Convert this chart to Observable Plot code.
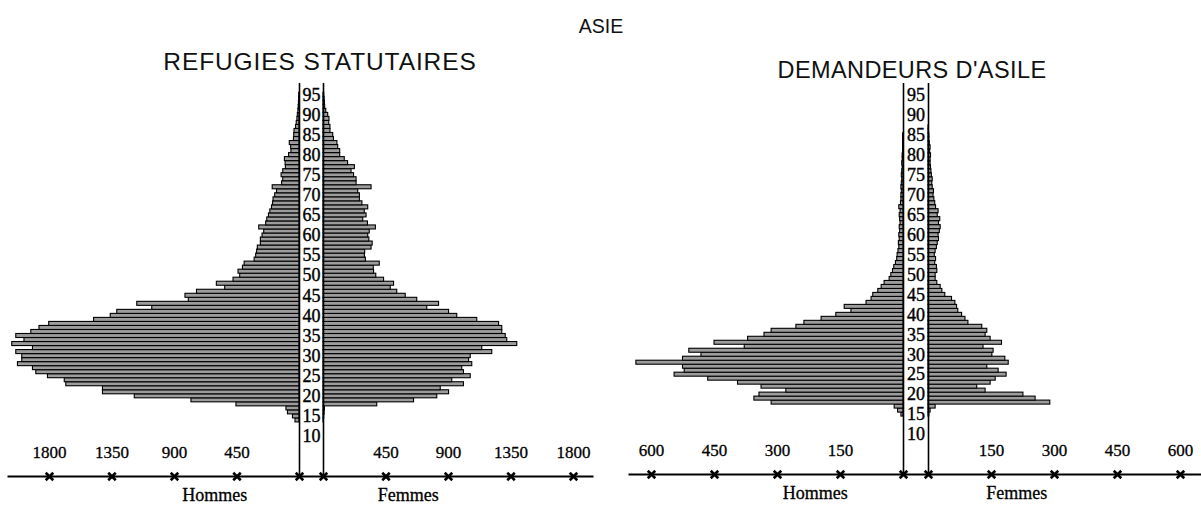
<!DOCTYPE html>
<html>
<head>
<meta charset="utf-8">
<script src="https://cdn.jsdelivr.net/npm/d3@7"></script>
<script src="https://cdn.jsdelivr.net/npm/@observablehq/plot@0.6"></script>
<style>
  body { margin: 0; background: #fff; }
  #root { position: relative; width: 1201px; height: 508px; overflow: hidden; background: #fff;
          font-family: "Liberation Sans", Arial, sans-serif; }
  .t { position: absolute; line-height: 1; color: #111; white-space: nowrap;
       transform: translate(-50%, -50%); }
  .p { position: absolute; top: 80px; }
</style>
</head>
<body>
<div id="root">
  <div class="t" style="left:601px; top:27px; font-size:19.5px;">ASIE</div>
  <div class="t" style="left:320px; top:62px; font-size:24.5px; letter-spacing:0.9px;">REFUGIES STATUTAIRES</div>
  <div class="t" style="left:912px; top:71px; font-size:23.5px; letter-spacing:0.4px;">DEMANDEURS D'ASILE</div>
  <div class="p" id="left" style="left:0px;"></div>
  <div class="p" id="right" style="left:605px;"></div>
</div>
<script>
// ---------- data ----------
const ages = [14,15,16,17,18,19,20,21,22,23,24,25,26,27,28,29,30,31,32,33,34,35,36,37,38,39,40,
  41,42,43,44,45,46,47,48,49,50,51,52,53,54,55,56,57,58,59,60,61,62,63,64,65,66,67,68,69,70,
  71,72,73,74,75,76,77,78,79,80,81,82,83,84,85,86,87,88,89,90,91,92,93,94,95];
const ageLabels = [10,15,20,25,30,35,40,45,50,55,60,65,70,75,80,85,90,95];

// Réfugiés statutaires (ages 14..95)
const refHommes = [29,47,83,94,454,778,1186,1415,1415,1679,1690,1811,1895,1919,2027,1996,1996,2039,1919,2068,
  1980,2039,1931,1872,1802,1479,1359,1312,1060,1168,797,821,738,535,595,475,427,439,407,395,
  323,312,305,300,278,278,266,254,290,240,232,220,210,198,190,187,175,162,193,125,
  117,129,117,98,100,105,75,58,60,70,40,38,36,25,20,15,12,8,6,4,3,2];
const refFemmes = [3,5,8,10,387,652,819,904,844,1011,927,1060,1011,999,1071,1048,1060,1215,1143,1395,
  1323,1312,1287,1287,1264,1107,963,904,747,832,675,592,531,484,508,436,380,364,362,405,
  305,298,300,346,354,330,322,333,377,320,286,310,297,322,280,262,262,250,346,238,
  238,220,202,226,177,153,120,120,106,100,75,70,50,50,41,43,34,20,12,10,8,5];
const refTicks = [450, 900, 1350, 1800];

// Demandeurs d'asile (ages 14..95)
const asileHommes = [0,5,13,21,314,355,343,279,338,394,465,545,521,525,636,525,481,510,378,450,
  370,331,314,255,236,195,160,124,140,88,76,72,60,52,45,33,29,25,22,18,
  15,14,12,10,11,9,10,8,9,7,8,9,7,10,6,5,5,4,5,4,
  3,4,3,2,3,2,2,1,1,1,1,1,0,0,0,0,0,0,0,0,0,0];
const asileFemmes = [0,2,5,17,290,255,226,136,116,148,160,186,167,140,191,183,152,155,131,175,
  148,136,140,128,95,88,80,71,68,64,56,40,33,29,21,17,17,21,20,16,
  18,15,17,20,22,25,24,27,29,25,28,22,24,18,16,14,12,13,10,9,
  10,8,7,6,5,5,6,4,5,3,2,2,1,1,0,0,0,0,0,0,0,0];
const asileTicks = [150, 300, 450, 600];

const sexLabels = ["Hommes", "Femmes"];

// ---------- drawing ----------
const SERIF = "'Liberation Serif', 'Times New Roman', serif";

function pyramid(o) {
  const rows = ages.map((a, i) => ({age: a, h: o.hommes[i], f: o.femmes[i]}));
  const tickRows = [0, ...o.ticks].flatMap(t => [{x: -(o.g + t), t}, {x: o.g + t, t}]);
  const sexRows = [{x: -(o.g + o.sexOff), s: sexLabels[0]}, {x: o.g + o.sexOff, s: sexLabels[1]}];
  const barStyle = {fill: "#9c9c9c", stroke: "#000", strokeWidth: 1.1};
  const xDomain = [-(o.centerPx - o.mL) / o.k, (o.width - o.mR - o.centerPx) / o.k];
  return Plot.plot({
    width: o.width, height: o.height,
    marginLeft: o.mL, marginRight: o.mR, marginTop: o.mT, marginBottom: o.mB,
    x: {domain: xDomain, axis: null},
    y: {domain: o.yDomain, axis: null},
    style: {background: "transparent", overflow: "visible"},
    marks: [
      Plot.rect(rows.filter(d => d.h > 0), {x1: d => -o.g - d.h, x2: d => -o.g,
        y1: d => d.age - 0.5, y2: d => d.age + 0.5, ...barStyle}),
      Plot.rect(rows.filter(d => d.f > 0), {x1: d => o.g, x2: d => o.g + d.f,
        y1: d => d.age - 0.5, y2: d => d.age + 0.5, ...barStyle}),
      Plot.ruleX([-o.g, o.g], {stroke: "#000", strokeWidth: 1.6}),
      Plot.frame({anchor: "bottom", stroke: "#000", strokeWidth: 2}),
      Plot.text(ageLabels, {x: 0, y: d => d, text: d => String(d), fontFamily: SERIF,
        fontSize: 18, fill: "#000", stroke: "#000", strokeWidth: 0.4}),
      Plot.dot(tickRows, {x: "x", frameAnchor: "bottom", symbol: "times", r: 3.5,
        stroke: "#000", strokeWidth: 2.6}),
      Plot.text(tickRows.filter(d => d.t > 0), {x: "x", frameAnchor: "bottom", dy: -19,
        text: d => String(d.t), fontFamily: SERIF, fontSize: 17, fill: "#000",
        stroke: "#000", strokeWidth: 0.3}),
      Plot.text(sexRows, {x: "x", frameAnchor: "bottom", dy: 24, text: "s",
        fontFamily: SERIF, fontSize: 18, fill: "#000", stroke: "#000", strokeWidth: 0.3})
    ]
  });
}

document.getElementById("left").appendChild(pyramid({
  hommes: refHommes, femmes: refFemmes, ticks: refTicks,
  width: 605, height: 428, mL: 8, mR: 13, mT: 3, mB: 32,
  centerPx: 311, k: 0.1389, g: 12 / 0.1389, sexOff: 610,
  yDomain: [0.05, 97.81]
}));

document.getElementById("right").appendChild(pyramid({
  hommes: asileHommes, femmes: asileFemmes, ticks: asileTicks,
  width: 596, height: 428, mL: 24, mR: 0, mT: 3, mB: 34,
  centerPx: 310.5, k: 0.42, g: 12.5 / 0.42, sexOff: 210,
  yDomain: [-0.03, 98.01]
}));
</script>
</body>
</html>
